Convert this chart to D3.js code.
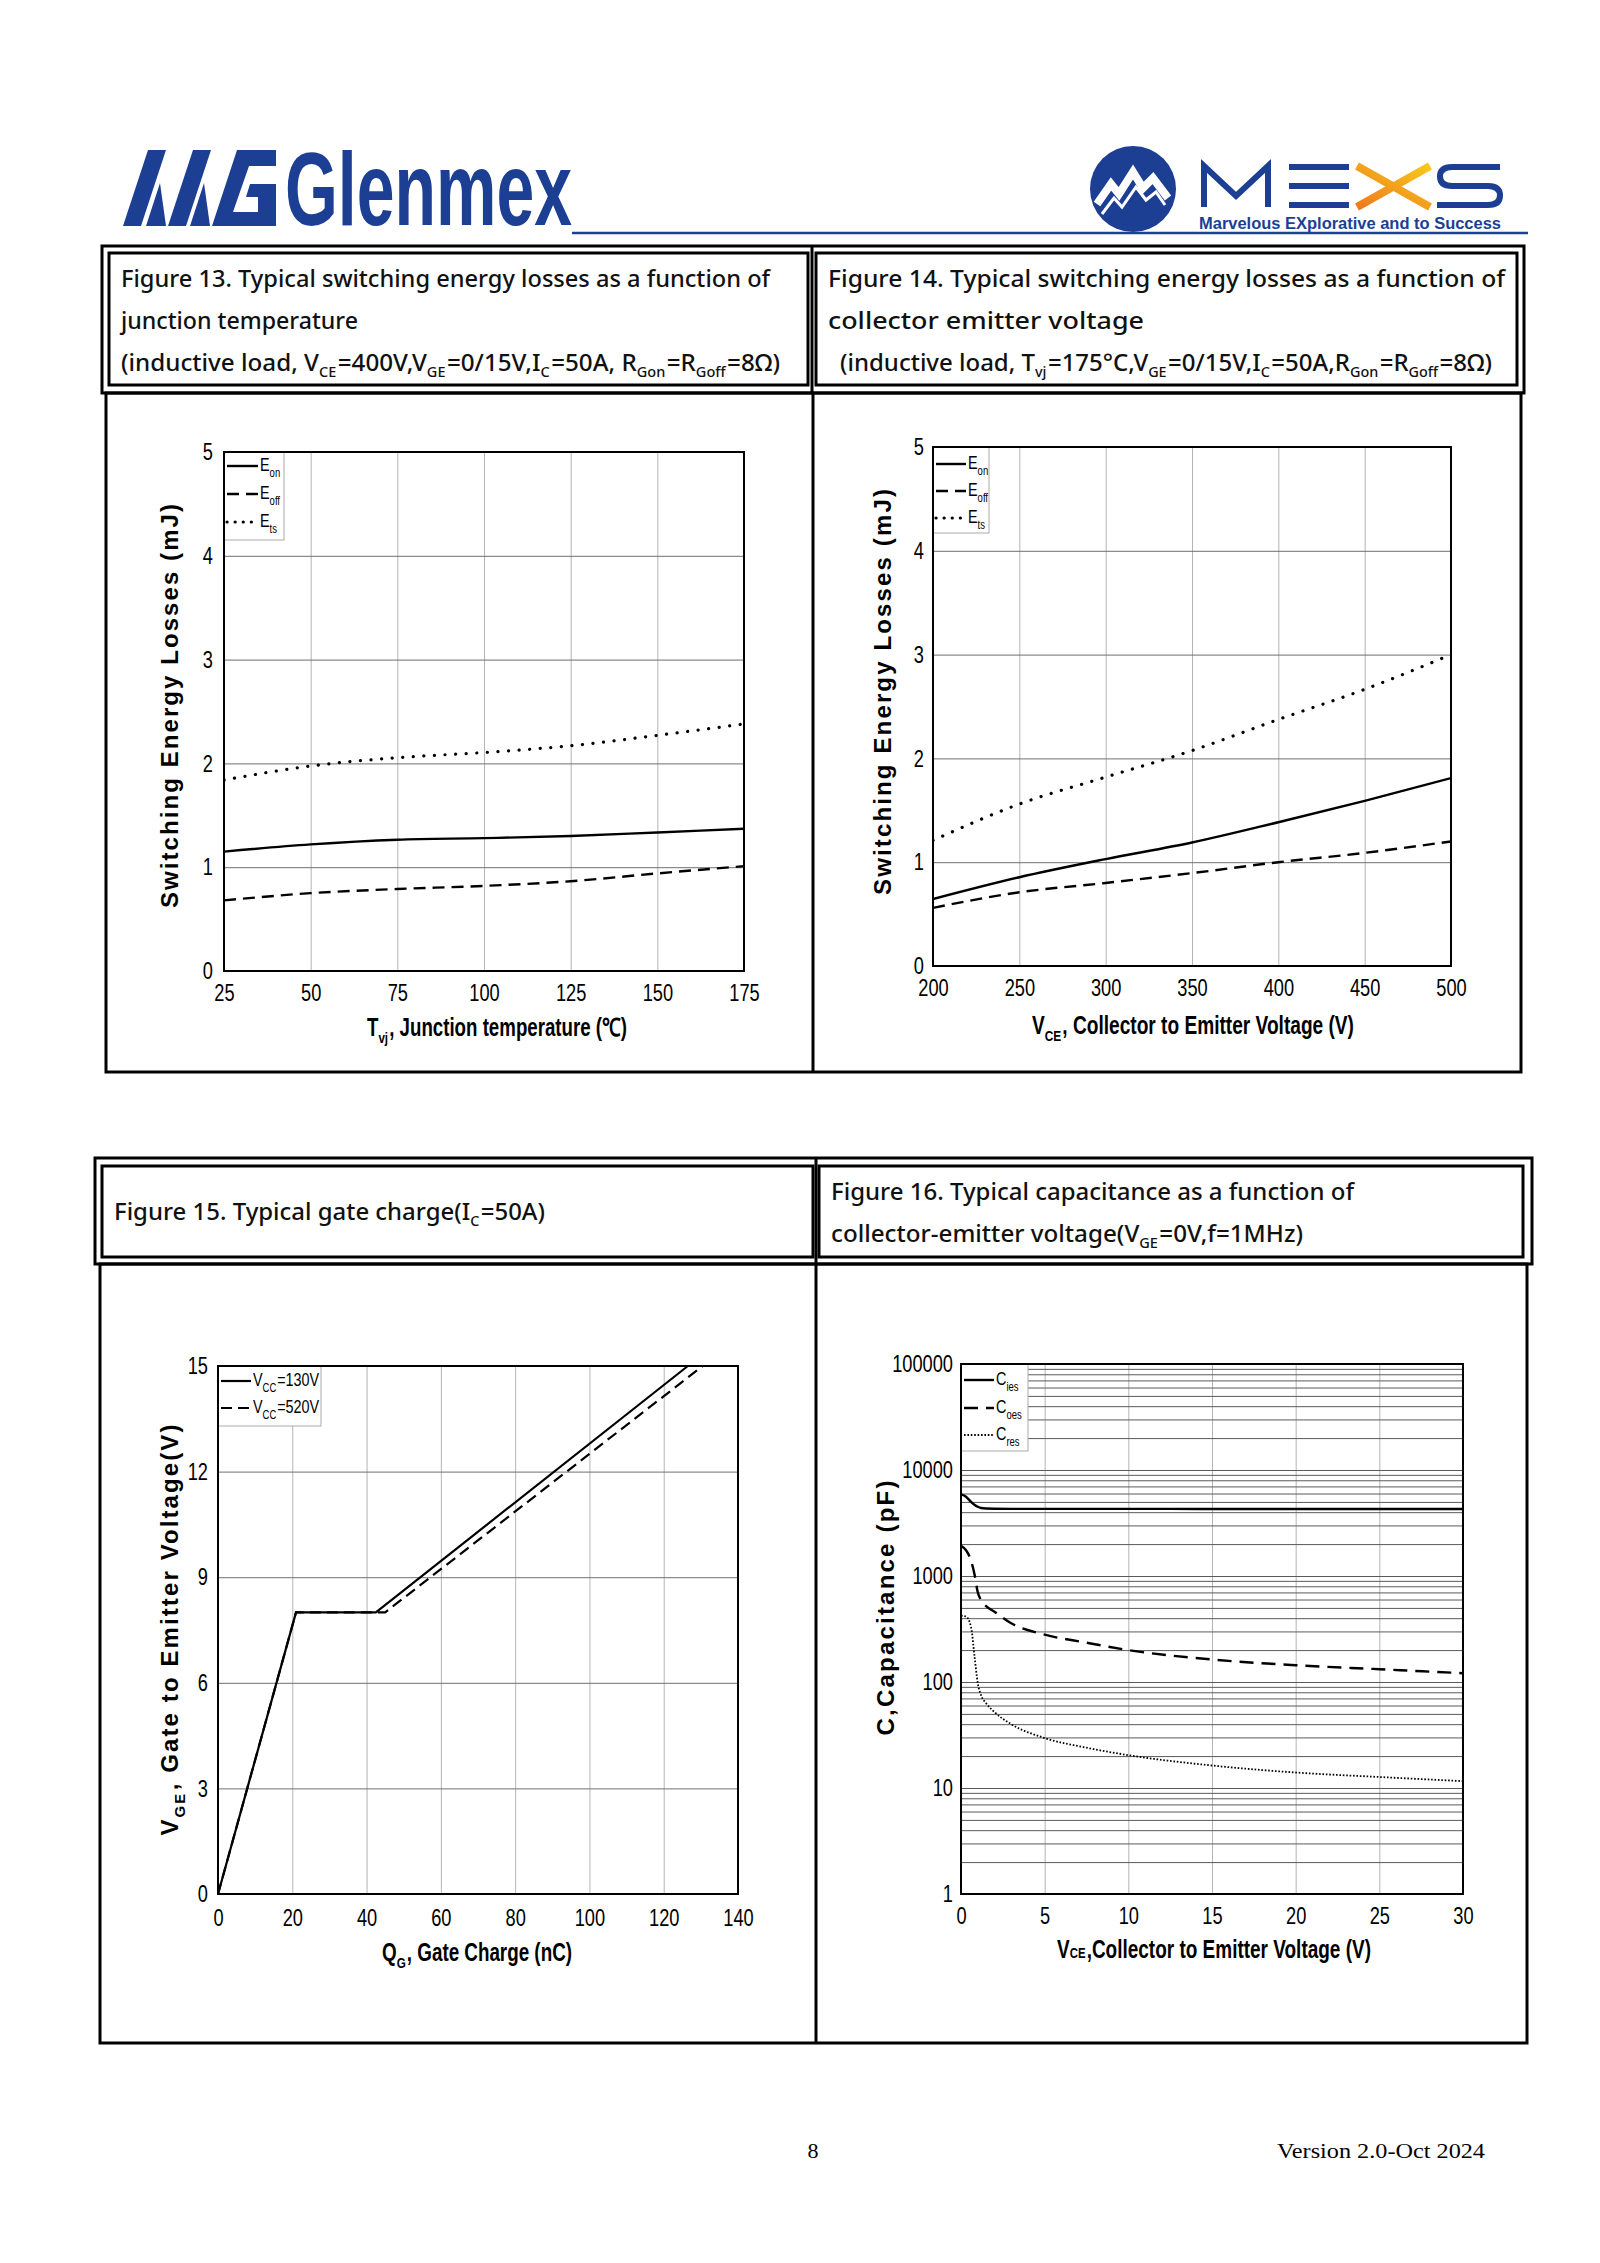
<!DOCTYPE html>
<html><head><meta charset="utf-8">
<script src="https://cdn.jsdelivr.net/npm/d3@7"></script>
<style>body{margin:0;background:#fff} svg{display:block}</style>
</head><body><svg id="page" width="1600" height="2263" xmlns="http://www.w3.org/2000/svg"></svg>
<script>
// ---------------- DATA ----------------
// Figure 13: switching energy vs junction temperature
const f13Temp = [25, 50, 75, 100, 125, 150, 175];
const f13Eon  = [1.15, 1.22, 1.265, 1.28, 1.30, 1.335, 1.37];
const f13Eoff = [0.68, 0.75, 0.79, 0.82, 0.865, 0.94, 1.01];
const f13Ets  = [1.84, 1.975, 2.055, 2.105, 2.17, 2.27, 2.38];
const f13XTicks = [25, 50, 75, 100, 125, 150, 175];
const f13YTicks = [0, 1, 2, 3, 4, 5];

// Figure 14: switching energy vs collector-emitter voltage
const f14Vce  = [200, 250, 300, 350, 400, 450, 500];
const f14Eon  = [0.645, 0.855, 1.03, 1.19, 1.385, 1.59, 1.81];
const f14Eoff = [0.56, 0.71, 0.80, 0.895, 1.0, 1.09, 1.2];
const f14Ets  = [1.21, 1.56, 1.82, 2.075, 2.375, 2.665, 3.0];
const f14XTicks = [200, 250, 300, 350, 400, 450, 500];
const f14YTicks = [0, 1, 2, 3, 4, 5];

// Figure 15: gate charge
const f15Qg130  = [0, 21, 42.5, 126.5];
const f15Vge130 = [0, 8, 8, 15];
const f15Qg520  = [0, 21, 45, 130.5];
const f15Vge520 = [0, 8, 8, 15];
const f15XTicks = [0, 20, 40, 60, 80, 100, 120, 140];
const f15YTicks = [0, 3, 6, 9, 12, 15];

// Figure 16: capacitance vs VCE
const f16Vce  = [0, 0.3, 0.6, 0.8, 1.0, 1.2, 1.5, 2, 3, 5, 7.5, 10, 15, 20, 25, 30];
const f16Cies = [5900, 5600, 5000, 4700, 4500, 4380, 4330, 4310, 4300, 4300, 4300, 4300, 4290, 4290, 4280, 4280];
const f16Coes = [1930, 1750, 1400, 1050, 705, 590, 520, 460, 358, 280, 235, 200, 163, 144, 132, 121];
const f16Cres = [422, 415, 330, 180, 98, 75, 63, 52, 40, 29.6, 24, 20.4, 16.3, 14, 12.7, 11.6];
const f16XTicks = [0, 5, 10, 15, 20, 25, 30];
const f16YTicks = [1, 10, 100, 1000, 10000, 100000];

// ---------------- DRAWING ----------------
const svg = d3.select('#page');
const BLUE = '#1c3f94';
const ARIAL = "'Liberation Sans',Arial,sans-serif";
const SANS = "'Noto Sans','Open Sans',sans-serif";
const SERIF = "'Liberation Serif','Times New Roman',serif";
const NX = 0.76;     // horizontal compression for narrow labels
const TICK = 24;

function rich(sel, parts, size, subScale = 0.62, shift = 0.28) {
  let off = 0, prevSub = false;
  parts.forEach(p => {
    const [t, kind] = Array.isArray(p) ? p : [p, null];
    const ts = sel.append('tspan').text(t);
    let target = 0;
    if (kind === 'sub') { target = size * shift; ts.attr('font-size', size * subScale); }
    else if (kind === 'small') { ts.attr('font-size', size * subScale); }
    if (target !== off) { ts.attr('dy', target - off); off = target; }
    if (prevSub && !kind) ts.attr('dx', size * 0.06);
    prevSub = !!kind;
  });
  return sel;
}

function rect(x, y, w, h, sw) {
  svg.append('rect').attr('x', x).attr('y', y).attr('width', w).attr('height', h)
    .attr('fill', 'none').attr('stroke', '#000').attr('stroke-width', sw);
}
function vline(x, y0, y1, sw) {
  svg.append('line').attr('x1', x).attr('x2', x).attr('y1', y0).attr('y2', y1)
    .attr('stroke', '#000').attr('stroke-width', sw);
}

// ---- header logos ----
const mark = svg.append('g').attr('fill', BLUE);
mark.append('polygon').attr('points', '123,226 148,150 166,150 141,226');
mark.append('polygon').attr('points', '146,226 160,183 166,226');
mark.append('polygon').attr('points', '168,226 193,150 211,150 186,226');
mark.append('polygon').attr('points', '190,226 204,183 210,226');
mark.append('polygon').attr('points', '212,226 237,150 276,150 276,166 249,166 233,212 258,212 258,197 246,197 250,184 276,184 276,226');
svg.append('text').attr('x', 285).attr('y', 225).attr('font-family', ARIAL).attr('font-weight', 'bold')
  .attr('font-size', 104).attr('fill', BLUE).attr('textLength', 287).attr('lengthAdjust', 'spacingAndGlyphs').text('Glenmex');
svg.append('line').attr('x1', 572).attr('x2', 1528).attr('y1', 233).attr('y2', 233).attr('stroke', BLUE).attr('stroke-width', 2.5);

svg.append('circle').attr('cx', 1133).attr('cy', 189).attr('r', 43).attr('fill', BLUE);
svg.append('polyline').attr('points', '1097,204 1111,184 1119,194 1133,172 1143,188 1153,178 1168,198')
  .attr('fill', 'none').attr('stroke', '#fff').attr('stroke-width', 8).attr('stroke-linejoin', 'miter');
svg.append('polyline').attr('points', '1102,214 1114,198 1122,207 1136,187 1146,200 1156,192 1165,205')
  .attr('fill', 'none').attr('stroke', '#fff').attr('stroke-width', 3);
const defs = svg.append('defs');
const grad = defs.append('linearGradient').attr('id', 'xg').attr('x1', '0').attr('x2', '1').attr('y1', '1').attr('y2', '0');
grad.append('stop').attr('offset', '0').attr('stop-color', '#ee7a1f');
grad.append('stop').attr('offset', '1').attr('stop-color', '#f7c91b');
const mx = svg.append('g').attr('fill', 'none').attr('stroke', BLUE).attr('stroke-width', 6);
mx.append('path').attr('d', 'M1204,207 L1204,166 L1236,196 L1268,166 L1268,207');
mx.append('path').attr('d', 'M1289,167 H1349 M1289,186 H1349 M1289,205 H1349');
svg.append('path').attr('d', 'M1357,166 L1430,207 M1357,207 L1430,166').attr('fill', 'none')
  .attr('stroke', 'url(#xg)').attr('stroke-width', 8);
mx.append('path').attr('d', 'M1500,167 L1452,167 Q1440,167 1440,176.5 Q1440,186 1452,186 L1488,186 Q1500,186 1500,195.5 Q1500,205 1488,205 L1437,205');
svg.append('text').attr('x', 1199).attr('y', 229).attr('font-family', ARIAL).attr('font-weight', 'bold')
  .attr('font-size', 16).attr('fill', BLUE).attr('textLength', 302).attr('lengthAdjust', 'spacingAndGlyphs')
  .text('Marvelous EXplorative and to Success');

// ---- frames ----
rect(102, 246, 1422, 147, 3);
vline(812, 246, 393, 3);
rect(109, 253, 699, 132, 3);
rect(816, 253, 701, 132, 3);
rect(106, 393, 1415, 679, 3);
vline(813, 393, 1072, 3);

rect(95, 1158, 1437, 106, 3);
vline(816, 1158, 1264, 3);
rect(102, 1166, 711, 91, 3);
rect(819, 1166, 704, 91, 3);
rect(100, 1264, 1427, 779, 3);
vline(816, 1264, 2043, 3);

// ---- header texts ----
function htext(x, y, parts, len, size, weight) {
  const t = svg.append('text').attr('x', x).attr('y', y).attr('font-family', SANS).attr('font-size', size)
    .attr('font-weight', weight || 400).attr('fill', '#111');
  if (len) t.attr('textLength', len).attr('lengthAdjust', 'spacingAndGlyphs');
  rich(t, parts, size, 0.6, 0.25);
}
htext(121, 287, ['Figure 13. Typical switching energy losses as a function of'], 649, 23, 500);
htext(121, 329, ['junction temperature'], 237, 23, 500);
htext(121, 371, ['(inductive load, V', ['CE', 'sub'], '=400V,V', ['GE', 'sub'], '=0/15V,I', ['C', 'sub'], '=50A, R', ['Gon', 'sub'], '=R', ['Goff', 'sub'], '=8Ω)'], 659, 23, 500);
htext(828, 287, ['Figure 14. Typical switching energy losses as a function of'], 677, 23, 500);
htext(828, 329, ['collector emitter voltage'], 316, 23, 500);
htext(840, 371, ['(inductive load, T', ['vj', 'sub'], '=175°C,V', ['GE', 'sub'], '=0/15V,I', ['C', 'sub'], '=50A,R', ['Gon', 'sub'], '=R', ['Goff', 'sub'], '=8Ω)'], 652, 23, 500);
htext(114, 1220, ['Figure 15. Typical gate charge(I', ['C', 'sub'], '=50A)'], 431, 24, 500);
htext(831, 1200, ['Figure 16. Typical capacitance as a function of'], 523, 24, 500);
htext(831, 1242, ['collector-emitter voltage(V', ['GE', 'sub'], '=0V,f=1MHz)'], 472, 24, 500);

// ---- chart helper ----
function narrowTicks(s) {
  s.select('.domain').remove();
  s.selectAll('text').attr('font-family', ARIAL).attr('font-size', TICK).attr('fill', '#000')
    .attr('transform', `scale(${NX},1)`);
}
function drawChart(c) {
  const x = d3.scaleLinear().domain(c.xDomain).range([c.left, c.right]);
  const y = (c.log ? d3.scaleLog() : d3.scaleLinear()).domain(c.yDomain).range([c.bottom, c.top]);
  const W = c.right - c.left, H = c.bottom - c.top;
  const g = svg.append('g');
  g.append('g').attr('transform', `translate(0,${c.bottom})`)
    .call(d3.axisBottom(x).tickValues(c.xTicks).tickSize(-H).tickFormat(''))
    .call(s => { s.select('.domain').remove(); s.selectAll('line').attr('stroke', '#b4b4b4').attr('stroke-width', 1); });
  g.append('g').attr('transform', `translate(${c.left},0)`)
    .call(d3.axisLeft(y).tickValues(c.yGrid).tickSize(-W).tickFormat(''))
    .call(s => { s.select('.domain').remove(); s.selectAll('line').attr('stroke', c.hGrid || '#707070').attr('stroke-width', 1); });
  const clip = 'clip' + Math.round(c.left) + Math.round(c.top);
  defs.append('clipPath').attr('id', clip).append('rect').attr('x', c.left).attr('y', c.top - 2).attr('width', W).attr('height', H + 2);
  c.series.forEach(s => {
    const pts = s.xs.map((v, i) => [v, s.ys[i]]);
    const line = d3.line().x(d => x(d[0])).y(d => y(d[1])).curve(s.curve || d3.curveMonotoneX);
    g.append('path').attr('d', line(pts)).attr('fill', 'none').attr('stroke', '#000')
      .attr('clip-path', `url(#${clip})`)
      .attr('stroke-width', s.width).attr('stroke-dasharray', s.dash || null).attr('stroke-linecap', s.cap || 'butt');
  });
  // legend
  const L = c.legend;
  g.append('rect').attr('x', c.left).attr('y', c.top).attr('width', L.w).attr('height', L.h)
    .attr('fill', '#fff').attr('stroke', '#aaa').attr('stroke-width', 1);
  c.series.forEach((s, i) => {
    const yy = L.ys[i];
    g.append('line').attr('x1', c.left + 3).attr('x2', c.left + L.line).attr('y1', yy).attr('y2', yy)
      .attr('stroke', '#000').attr('stroke-width', s.width).attr('stroke-dasharray', s.legDash || s.dash || null)
      .attr('stroke-linecap', s.cap || 'butt');
    const t = g.append('text').attr('transform', `translate(${c.left + L.line + 2},${yy + 5}) scale(0.8,1)`)
      .attr('font-family', ARIAL).attr('font-size', L.size).attr('fill', '#000');
    rich(t, s.label, L.size, 0.66, 0.36);
  });
  g.append('rect').attr('x', c.left).attr('y', c.top).attr('width', W).attr('height', H)
    .attr('fill', 'none').attr('stroke', '#000').attr('stroke-width', 2);
  // tick labels
  g.append('g').attr('transform', `translate(0,${c.bottom})`)
    .call(d3.axisBottom(x).tickValues(c.xTicks).tickSize(0).tickPadding(c.xPad).tickFormat(d3.format('d')))
    .call(narrowTicks);
  g.append('g').attr('transform', `translate(${c.left},0)`)
    .call(d3.axisLeft(y).tickValues(c.yTicks).tickSize(0).tickPadding(c.yPad / NX).tickFormat(d3.format('d')))
    .call(narrowTicks);
  // titles
  const XS = 25;
  const xt = g.append('text').attr('x', c.xTitle.x).attr('y', c.xTitle.y).attr('text-anchor', 'middle')
    .attr('font-family', ARIAL).attr('font-weight', 'bold').attr('font-size', XS).attr('fill', '#000')
    .attr('textLength', c.xTitle.len).attr('lengthAdjust', 'spacingAndGlyphs');
  rich(xt, c.xTitle.parts, XS, c.xTitle.subScale || 0.62, c.xTitle.shift === undefined ? 0.28 : c.xTitle.shift);
  const YS = 24;
  const yt = g.append('text').attr('transform', `translate(${c.yTitle.x},${c.yTitle.y}) rotate(-90)`)
    .attr('text-anchor', 'middle').attr('font-family', ARIAL).attr('font-weight', 'bold')
    .attr('font-size', YS).attr('fill', '#000').attr('textLength', c.yTitle.len).attr('lengthAdjust', 'spacing');
  rich(yt, c.yTitle.parts, YS, 0.62, 0.28);
}

const solid = { width: 2.4 };
const dashed = { width: 2.4, dash: '12 7' };
const dotted = { width: 3.2, dash: '0.1 10.5', cap: 'round', legDash: '0.1 8' };

drawChart({
  left: 224, right: 744, top: 452, bottom: 971,
  xDomain: [25, 175], yDomain: [0, 5], xTicks: f13XTicks, yTicks: f13YTicks, yGrid: f13YTicks,
  xPad: 13, yPad: 11,
  series: [
    Object.assign({ xs: f13Temp, ys: f13Eon, label: ['E', ['on', 'sub']] }, solid),
    Object.assign({ xs: f13Temp, ys: f13Eoff, label: ['E', ['off', 'sub']] }, dashed),
    Object.assign({ xs: f13Temp, ys: f13Ets, label: ['E', ['ts', 'sub']] }, dotted)
  ],
  legend: { w: 60, h: 88, ys: [466, 494, 522], line: 34, size: 18 },
  xTitle: { x: 497, y: 1036, len: 260, parts: ['T', ['vj', 'sub'], ', Junction temperature (℃)'] },
  yTitle: { x: 178, y: 706, len: 404, parts: ['Switching Energy Losses (mJ)'] }
});

drawChart({
  left: 933, right: 1451, top: 447, bottom: 966,
  xDomain: [200, 500], yDomain: [0, 5], xTicks: f14XTicks, yTicks: f14YTicks, yGrid: f14YTicks,
  xPad: 13, yPad: 9,
  series: [
    Object.assign({ xs: f14Vce, ys: f14Eon, label: ['E', ['on', 'sub']] }, solid),
    Object.assign({ xs: f14Vce, ys: f14Eoff, label: ['E', ['off', 'sub']] }, dashed),
    Object.assign({ xs: f14Vce, ys: f14Ets, label: ['E', ['ts', 'sub']] }, dotted)
  ],
  legend: { w: 56, h: 86, ys: [464, 491, 518], line: 33, size: 18 },
  xTitle: { x: 1193, y: 1034, len: 322, parts: ['V', ['CE', 'sub'], ', Collector to Emitter Voltage (V)'] },
  yTitle: { x: 891, y: 692, len: 406, parts: ['Switching Energy Losses (mJ)'] }
});

drawChart({
  left: 218, right: 738, top: 1366, bottom: 1894,
  xDomain: [0, 140], yDomain: [0, 15], xTicks: f15XTicks, yTicks: f15YTicks, yGrid: f15YTicks,
  xPad: 15, yPad: 10,
  series: [
    { xs: f15Qg130, ys: f15Vge130, width: 2.2, curve: d3.curveLinear, label: ['V', ['CC', 'sub'], '=130V'] },
    { xs: f15Qg520, ys: f15Vge520, width: 2.2, dash: '11 6', curve: d3.curveLinear, label: ['V', ['CC', 'sub'], '=520V'] }
  ],
  legend: { w: 103, h: 60, ys: [1381, 1408], line: 33, size: 18 },
  xTitle: { x: 477, y: 1961, len: 190, parts: ['Q', ['G', 'sub'], ', Gate Charge (nC)'] },
  yTitle: { x: 178, y: 1630, len: 411, parts: ['V', ['GE', 'sub'], ', Gate to Emitter Voltage(V)'] }
});

const f16Grid = [];
f16YTicks.slice(0, -1).forEach(d => { for (let k = 1; k <= 9; k++) f16Grid.push(d * k); });
f16Grid.push(100000);
drawChart({
  left: 961, right: 1463, top: 1364, bottom: 1894, log: true,
  xDomain: [0, 30], yDomain: [1, 100000], xTicks: f16XTicks, yTicks: f16YTicks, yGrid: f16Grid, hGrid: '#5a5a5a',
  xPad: 13, yPad: 8,
  series: [
    { xs: f16Vce, ys: f16Cies, width: 2.4, label: ['C', ['ies', 'sub']] },
    { xs: f16Vce, ys: f16Coes, width: 2.4, dash: '14 8', label: ['C', ['oes', 'sub']] },
    { xs: f16Vce, ys: f16Cres, width: 1.8, dash: '1.6 1.8', label: ['C', ['res', 'sub']] }
  ],
  legend: { w: 67, h: 87, ys: [1380, 1408, 1435], line: 33, size: 18 },
  xTitle: { x: 1214, y: 1958, len: 314, parts: ['V', ['CE', 'small'], ',Collector to Emitter Voltage (V)'], subScale: 0.6, shift: 0 },
  yTitle: { x: 894, y: 1608, len: 255, parts: ['C,Capacitance (pF)'] }
});

// ---- footer ----
svg.append('text').attr('x', 813).attr('y', 2158).attr('text-anchor', 'middle').attr('font-family', SERIF)
  .attr('font-size', 22).attr('fill', '#000').text('8');
svg.append('text').attr('x', 1277).attr('y', 2158).attr('font-family', SERIF)
  .attr('font-size', 22).attr('fill', '#000').attr('textLength', 208).attr('lengthAdjust', 'spacingAndGlyphs')
  .text('Version 2.0-Oct 2024');
</script>
</body></html>
